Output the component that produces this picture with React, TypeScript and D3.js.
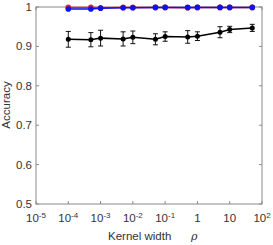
import React from "react";
import * as d3 from "d3";

const xs = [1e-4, 5e-4, 1e-3, 5e-3, 1e-2, 5e-2, 0.1, 0.5, 1, 5, 10, 50];
const blackMean = [0.918, 0.917, 0.921, 0.919, 0.923, 0.918, 0.925, 0.924, 0.926, 0.936, 0.943, 0.947];
const blackErr = [0.02, 0.018, 0.02, 0.018, 0.016, 0.014, 0.012, 0.016, 0.011, 0.014, 0.008, 0.009];
const redVals = [0.999, 0.999, 0.998, 0.999, 0.999, 0.999, 0.999, 0.998, 0.999, 0.999, 0.999, 0.999];
const blueVals = [0.995, 0.995, 0.997, 0.998, 0.998, 0.999, 0.999, 0.999, 0.999, 0.999, 0.999, 0.999];
const yTicks = [0.5, 0.6, 0.7, 0.8, 0.9, 1];
const xTickExps = [-5, -4, -3, -2, -1, 0, 1, 2];
const xTickLabels: [string, string][] = [
  ["10", "-5"], ["10", "-4"], ["10", "-3"], ["10", "-2"], ["10", "-1"], ["1", ""], ["10", ""], ["10", "2"],
];

export default function App() {
  const L = 36, R = 262, T = 7, B = 204;
  const x = d3.scaleLog().domain([1e-5, 1e2]).range([L, R]);
  const y = d3.scaleLinear().domain([0.5, 1]).range([B, T]);
  const line = d3.line<number>().x((_, i) => x(xs[i])).y((d) => y(d));
  const font = "Helvetica, Arial, 'Liberation Sans', sans-serif";
  const axisCol = "#8a8a8a";
  const textCol = "#333";
  return (
    <svg width={273} height={245} style={{ position: "absolute", left: 0, top: 0 }} fontFamily={font}>
      <rect x={0} y={0} width={273} height={245} fill="#fff" />
      <rect x={L} y={T} width={R - L} height={B - T} fill="none" stroke={axisCol} strokeWidth={1} />
      {yTicks.map((t) => (
        <g key={t}>
          <line x1={L} x2={L + 3} y1={y(t)} y2={y(t)} stroke={axisCol} />
          <line x1={R} x2={R - 3} y1={y(t)} y2={y(t)} stroke={axisCol} />
          <text x={L - 4} y={y(t) + 4} textAnchor="end" fontSize={11.5} fill={textCol}>
            {String(t)}
          </text>
        </g>
      ))}
      {xTickExps.map((e, i) => {
        const px = x(Math.pow(10, e));
        const [base, sup] = xTickLabels[i];
        return (
          <g key={e}>
            <line x1={px} x2={px} y1={B} y2={B - 3} stroke={axisCol} />
            <line x1={px} x2={px} y1={T} y2={T + 3} stroke={axisCol} />
            <text x={px} y={222} textAnchor="middle" fontSize={11.5} fill={textCol}>
              {base}
              {sup && (
                <tspan fontSize={8} dy={-4}>
                  {sup}
                </tspan>
              )}
            </text>
          </g>
        );
      })}
      <text x={10} y={105} transform="rotate(-90 10 105)" textAnchor="middle" fontSize={11.5} fill={textCol}>
        Accuracy
      </text>
      <text x={108} y={240} fontSize={11.5} fill={textCol}>
        Kernel width
      </text>
      <text x={191} y={240} fontSize={11} fontStyle="italic" fill={textCol} fontFamily="'DejaVu Serif', serif">
        ρ
      </text>
      <path d={line(redVals) || ""} fill="none" stroke="#e8202a" strokeWidth={1.5} />
      {redVals.map((v, i) => (
        <circle key={"r" + i} cx={x(xs[i])} cy={y(v)} r={2.8} fill="#e8202a" />
      ))}
      <path d={line(blueVals) || ""} fill="none" stroke="#1010f0" strokeWidth={1.5} />
      {blueVals.map((v, i) => (
        <circle key={"b" + i} cx={x(xs[i])} cy={y(v)} r={2.8} fill="#1010f0" />
      ))}
      {blackMean.map((m, i) => {
        const px = x(xs[i]);
        const e = blackErr[i];
        return (
          <g key={"e" + i} stroke="#111" strokeWidth={1}>
            <line x1={px} x2={px} y1={y(m - e)} y2={y(m + e)} />
            <line x1={px - 2.5} x2={px + 2.5} y1={y(m - e)} y2={y(m - e)} />
            <line x1={px - 2.5} x2={px + 2.5} y1={y(m + e)} y2={y(m + e)} />
          </g>
        );
      })}
      <path d={line(blackMean) || ""} fill="none" stroke="#000" strokeWidth={1.5} />
      {blackMean.map((v, i) => (
        <circle key={"k" + i} cx={x(xs[i])} cy={y(v)} r={2.5} fill="#000" />
      ))}
    </svg>
  );
}
